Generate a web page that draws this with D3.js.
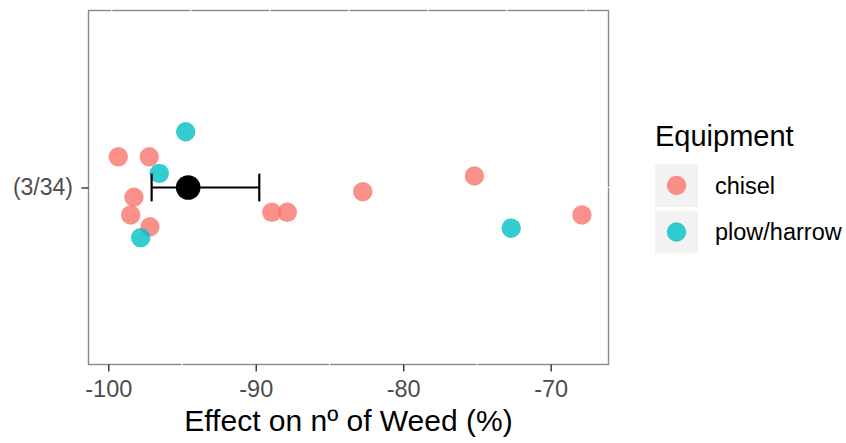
<!DOCTYPE html>
<html>
<head>
<meta charset="utf-8">
<script src="https://cdn.jsdelivr.net/npm/d3@7"></script>
<style>
  body { margin: 0; background: #fff; }
  text { font-family: "Liberation Sans", Arial, sans-serif; }
</style>
</head>
<body>
<div id="chart"></div>
<script>
// Data
var category = ["(3/34)"];
var groups = ["chisel", "plow/harrow"];
var equipment = ["plow/harrow", "chisel", "chisel", "plow/harrow", "chisel", "chisel", "chisel",
  "plow/harrow", "chisel", "chisel", "chisel", "chisel", "plow/harrow", "chisel"];
var effect = [-94.75, -99.32, -97.22, -96.54, -98.26, -98.48, -97.17,
  -97.80, -88.91, -87.86, -82.74, -75.17, -72.68, -67.88];
var jitter = [0.189, 0.104, 0.104, 0.048, -0.033, -0.093, -0.133,
  -0.170, -0.084, -0.084, -0.014, 0.039, -0.138, -0.093];
var meanEffect = [-94.58];
var ciLow = [-97.06];
var ciHigh = [-89.76];
var xTicks = [-100, -90, -80, -70];
var xMinor = [-95, -85, -75];

var svgWidth = 846;
var svgHeight = 443;

var panel = { left: 88.5, top: 10.5, right: 608.5, bottom: 364.5 };

var colors = d3.scaleOrdinal()
  .domain(groups)
  .range(["#F8766D", "#00BFC4"]);

var svg = d3.select("#chart")
  .append("svg")
  .attr("width", svgWidth)
  .attr("height", svgHeight);

// scales
var xScale = d3.scaleLinear()
  .domain([-101.34, -66.08])
  .range([panel.left, panel.right]);

var yCat = d3.scalePoint()
  .domain(category)
  .range([panel.bottom, panel.top])
  .padding(0.5);

// continuous position around the single category (discrete units)
var yPos = d3.scaleLinear()
  .domain([0.4, 1.6])
  .range([panel.bottom, panel.top]);

var points = effect.map(function (d, i) {
  return { effect: d, equipment: equipment[i], jitter: jitter[i] };
});

// panel border
svg.append("rect")
  .attr("x", panel.left)
  .attr("y", panel.top)
  .attr("width", panel.right - panel.left)
  .attr("height", panel.bottom - panel.top)
  .attr("fill", "none")
  .attr("stroke", "#8a8a8a")
  .attr("stroke-width", 1.4);

// white grid lines crossing the border
svg.append("g").selectAll("line")
  .data(xMinor)
  .enter()
  .append("line")
  .attr("x1", d => xScale(d))
  .attr("x2", d => xScale(d))
  .attr("y1", panel.bottom - 2)
  .attr("y2", panel.bottom + 2)
  .attr("stroke", "#fff")
  .attr("stroke-width", 1);

svg.append("line")
  .attr("x1", panel.right - 2)
  .attr("x2", panel.right + 2)
  .attr("y1", yCat(category[0]))
  .attr("y2", yCat(category[0]))
  .attr("stroke", "#fff")
  .attr("stroke-width", 1);

svg.append("line")
  .attr("x1", panel.left)
  .attr("x2", panel.right)
  .attr("y1", panel.top)
  .attr("y2", panel.top)
  .attr("stroke", "#fff")
  .attr("stroke-width", 2)
  .attr("stroke-dasharray", "1.2 77.8")
  .attr("stroke-dashoffset", -22.6);

// x axis
var bottomAxis = d3.axisBottom(xScale)
  .tickValues(xTicks)
  .tickSize(7)
  .tickPadding(8.5)
  .tickFormat(d3.format("d"));

var xAxis = svg.append("g")
  .attr("transform", `translate(0, ${panel.bottom})`)
  .call(bottomAxis);
xAxis.select(".domain").remove();
xAxis.selectAll(".tick line").attr("stroke", "#333").attr("stroke-width", 1.4);
xAxis.selectAll(".tick text")
  .attr("fill", "#4d4d4d")
  .style("font-size", "23.5px")
  .style("font-family", "'Liberation Sans', Arial, sans-serif")
  .text(d => d3.format("d")(d).replace("−", "-"));

// y axis
var leftAxis = d3.axisLeft(yCat)
  .tickSize(7)
  .tickPadding(8.5);

var yAxis = svg.append("g")
  .attr("transform", `translate(${panel.left}, 0)`)
  .call(leftAxis);
yAxis.select(".domain").remove();
yAxis.selectAll(".tick line").attr("stroke", "#333").attr("stroke-width", 1.4);
yAxis.selectAll(".tick text")
  .attr("fill", "#4d4d4d")
  .style("font-size", "23px")
  .style("font-family", "'Liberation Sans', Arial, sans-serif");

// jittered points, chisel first so plow/harrow sits on top
var sorted = points.slice().sort((a, b) => groups.indexOf(a.equipment) - groups.indexOf(b.equipment));
svg.append("g").selectAll("circle")
  .data(sorted)
  .enter()
  .append("circle")
  .attr("cx", d => xScale(d.effect))
  .attr("cy", d => yPos(1 + d.jitter))
  .attr("r", 9.7)
  .attr("fill", d => colors(d.equipment))
  .attr("opacity", 0.8);

// error bar and mean
var cy = yCat(category[0]);
var eb = svg.append("g").attr("stroke", "#000").attr("stroke-width", 2.2);
eb.append("line")
  .attr("x1", xScale(ciLow[0]))
  .attr("x2", xScale(ciHigh[0]))
  .attr("y1", cy)
  .attr("y2", cy);
[ciLow[0], ciHigh[0]].forEach(function (v) {
  eb.append("line")
    .attr("x1", xScale(v))
    .attr("x2", xScale(v))
    .attr("y1", yPos(1 + 0.047))
    .attr("y2", yPos(1 - 0.047));
});

svg.append("circle")
  .attr("cx", xScale(meanEffect[0]))
  .attr("cy", cy)
  .attr("r", 12.3)
  .attr("fill", "#000");

// axis title
svg.append("text")
  .attr("x", (panel.left + panel.right) / 2)
  .attr("y", 431)
  .attr("text-anchor", "middle")
  .attr("fill", "#000")
  .style("font-size", "30px")
  .text("Effect on nº of Weed (%)");

// legend
var legend = svg.append("g").attr("transform", "translate(655, 0)");
legend.append("text")
  .attr("x", 0)
  .attr("y", 146)
  .attr("fill", "#000")
  .style("font-size", "29px")
  .text("Equipment");

var keys = legend.selectAll("g.key")
  .data(groups)
  .enter()
  .append("g")
  .attr("class", "key")
  .attr("transform", (d, i) => `translate(0, ${164 + i * 46.5})`);

keys.append("rect")
  .attr("width", 43)
  .attr("height", 43)
  .attr("fill", "#f2f2f2");

keys.append("circle")
  .attr("cx", 21.5)
  .attr("cy", 21.5)
  .attr("r", 9.7)
  .attr("fill", d => colors(d))
  .attr("opacity", 0.8);

keys.append("text")
  .attr("x", 60)
  .attr("y", 21.5)
  .attr("dy", "0.36em")
  .attr("fill", "#000")
  .style("font-size", "23.5px")
  .text(d => d);
</script>
</body>
</html>
